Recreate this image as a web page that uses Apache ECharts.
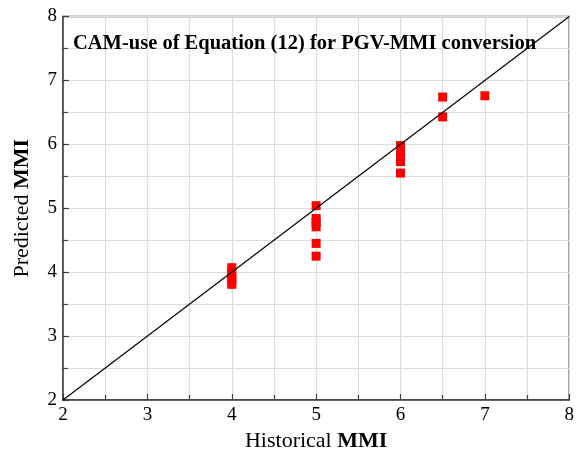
<!DOCTYPE html>
<html>
<head>
<meta charset="utf-8">
<script src="https://cdn.jsdelivr.net/npm/echarts@6/dist/echarts.min.js"></script>
<style>
html,body{margin:0;padding:0;background:#fff;}
#chart{width:577px;height:459px;}
</style>
</head>
<body>
<div id="chart"></div>
<script>
// Historical vs predicted MMI, grouped by historical intensity
const historical = [4, 4, 4, 4, 4, 4, 5, 5, 5, 5, 5, 5, 6, 6, 6, 6, 6, 6.5, 6.5, 7];
const predicted  = [4.07, 4.0, 3.95, 3.9, 3.85, 3.81, 5.04, 4.84, 4.78, 4.71, 4.45, 4.25, 5.98, 5.93, 5.87, 5.73, 5.55, 6.74, 6.43, 6.76];
// 1:1 reference line
const oneToOne = [[2, 2], [8, 8]];
const axisTicks = [2, 3, 4, 5, 6, 7, 8];

const serif = '"Liberation Serif", "Times New Roman", serif';
const points = historical.map((h, i) => [h, predicted[i]]);

function axis(name, nameGap, rotate) {
  return {
    type: 'value',
    min: axisTicks[0],
    max: axisTicks[axisTicks.length - 1],
    interval: 1,
    name: name,
    nameLocation: 'middle',
    nameGap: nameGap,
    nameRotate: rotate,
    nameTextStyle: {
      fontFamily: serif, fontSize: 22, color: '#000',
      rich: { b: { fontFamily: serif, fontSize: 22, fontWeight: 'bold', color: '#000' } }
    },
    axisLine: { show: true, onZero: false, lineStyle: { color: '#404040', width: 1.5 } },
    axisTick: { show: true, inside: true, length: 6, lineStyle: { color: '#404040', width: 1.2 } },
    minorTick: { show: true, splitNumber: 2, length: 5, lineStyle: { color: '#404040', width: 1.2 } },
    axisLabel: { fontFamily: serif, fontSize: 19, color: '#000', margin: 6 },
    splitLine: { show: true, lineStyle: { color: '#dcdcdc', width: 1.2 } },
    minorSplitLine: { show: true, lineStyle: { color: '#dcdcdc', width: 1.2 } }
  };
}

const chart = echarts.init(document.getElementById('chart'), null, { renderer: 'canvas' });
chart.setOption({
  animation: false,
  backgroundColor: '#fff',
  title: {
    text: 'CAM-use of Equation (12) for PGV-MMI conversion',
    left: 68, top: 28,
    textStyle: { fontFamily: serif, fontSize: 20.5, fontWeight: 'bold', color: '#000' }
  },
  grid: {
    left: 63, right: 5, top: 16.5, bottom: 59,
    show: true, borderColor: '#404040', borderWidth: 1.5, backgroundColor: 'transparent'
  },
  xAxis: axis('Historical {b|MMI}', 30, 0),
  yAxis: axis('Predicted {b|MMI}', 30, 90),
  series: [
    {
      type: 'line',
      data: oneToOne,
      symbol: 'none',
      lineStyle: { color: '#000', width: 1.2 },
      z: 3
    },
    {
      type: 'scatter',
      data: points,
      symbol: 'rect',
      symbolSize: 9,
      itemStyle: { color: '#ff0000', opacity: 1 },
      z: 2
    }
  ]
});
</script>
</body>
</html>
